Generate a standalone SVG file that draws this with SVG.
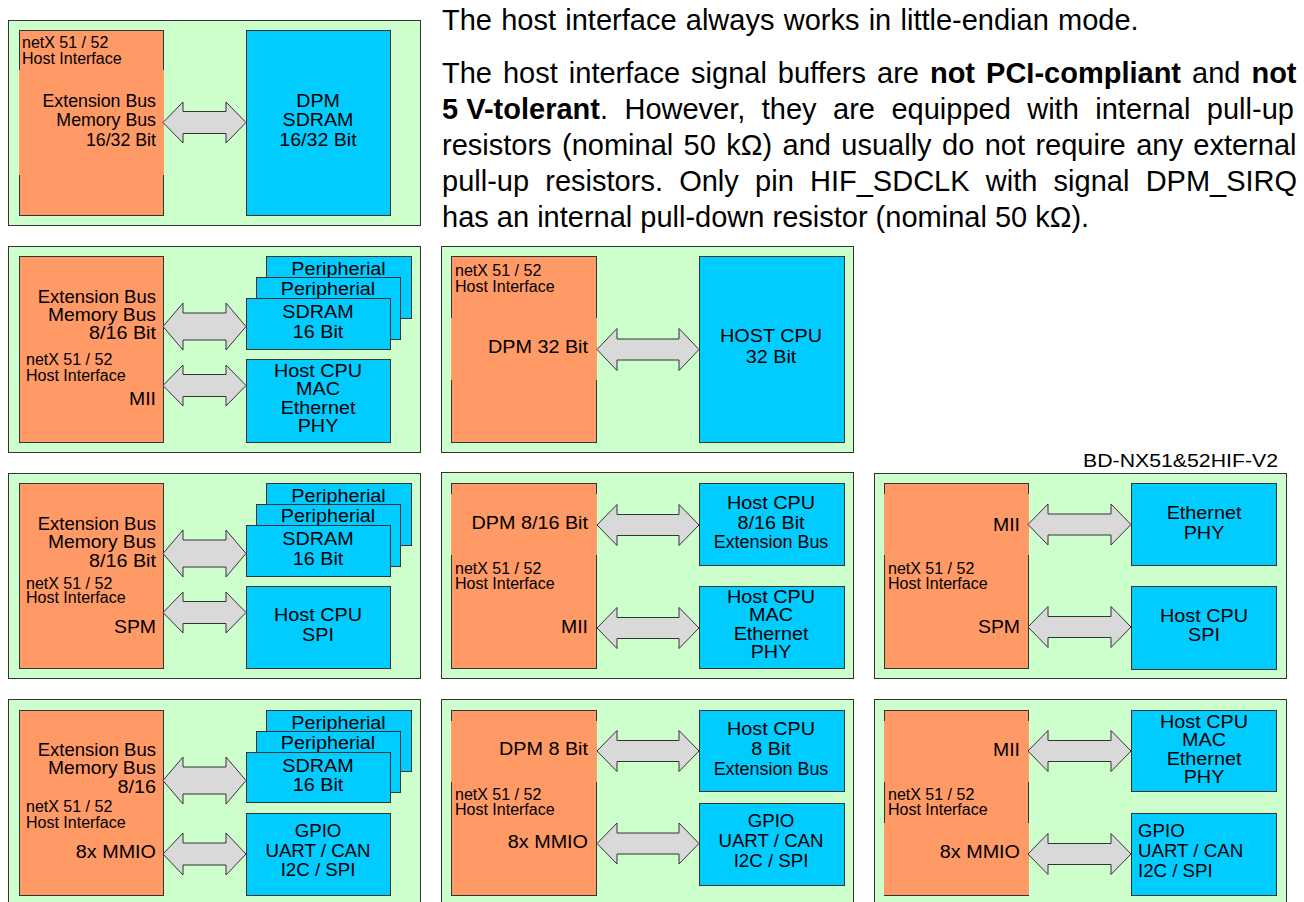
<svg xmlns="http://www.w3.org/2000/svg" width="1304" height="902" viewBox="0 0 1304 902">
<style>
.panel{fill:#ccffcc;stroke:#333;stroke-width:1}
.hif{fill:#ff9966;stroke:#333;stroke-width:1}
.gap{fill:#ff9966}
.blk{fill:#00ccff;stroke:#333;stroke-width:1}
.bus{fill:#d9d9d9;stroke:#333;stroke-width:1}
text{font-family:"Liberation Sans",Arial,Helvetica,sans-serif;fill:#000}
.t{font-size:18.5px}
.s{font-size:16px}
.p{font-size:29px}
.b{font-weight:bold}
.e{text-anchor:end}
.m{text-anchor:middle}
</style>
<rect width="1304" height="902" fill="#ffffff"/>

<g id="text-block">
<text class="p" x="442" y="30" word-spacing="1.2">The host interface always works in little-endian mode.</text>
<text class="p" x="442" y="83" word-spacing="2.96">The host interface signal buffers are <tspan class="b">not PCI-compliant</tspan> and <tspan class="b">not</tspan></text>
<text class="p" x="442" y="119" word-spacing="8.4"><tspan class="b" word-spacing="0">5 V-tolerant</tspan>. However, they are equipped with internal pull-up</text>
<text class="p" x="442" y="155" word-spacing="2.36">resistors (nominal 50 kΩ) and usually do not require any external</text>
<text class="p" x="442" y="191" word-spacing="8.19">pull-up resistors. Only pin HIF_SDCLK with signal DPM_SIRQ</text>
<text class="p" x="442" y="227">has an internal pull-down resistor (nominal 50 kΩ).</text>
</g>

<text id="label-bd" class="t e" transform="translate(1278 0) scale(1.15 1)" y="467.5">BD-NX51&amp;52HIF-V2</text>

<!-- Panel 1 -->
<g id="panel1">
<rect class="panel" x="8.5" y="20.5" width="412" height="205"/>
<g id="p1-hif">
<rect class="hif" x="19.5" y="30.5" width="144" height="185"/>
<rect class="gap" x="19" y="70" width="145" height="105"/>
<text class="s"><tspan x="22" y="48">netX 51 / 52</tspan><tspan x="22" y="64">Host Interface</tspan></text>
<text class="t e" transform="translate(156 0) scale(0.96 1)"><tspan x="0" y="107">Extension Bus</tspan><tspan x="0" y="126.5">Memory Bus</tspan><tspan x="0" y="146">16/32 Bit</tspan></text>
</g>
<g id="p1-dpm">
<rect class="blk" x="246.5" y="30.5" width="144" height="185"/>
<text class="t m" transform="translate(318 0) scale(1.06 1)"><tspan x="0" y="107">DPM</tspan><tspan x="0" y="126.5">SDRAM</tspan><tspan x="0" y="146">16/32 Bit</tspan></text>
</g>
</g>

<!-- Panel 2 -->
<g id="panel2">
<rect class="panel" x="8.5" y="246.5" width="412" height="206"/>
<g id="p2-hif">
<rect class="hif" x="19.5" y="256.5" width="144" height="186"/>
<text class="t e" transform="translate(156 0)" y="302.5">Extension Bus</text>
<text class="t e" transform="translate(156 0) scale(1.04 1)" y="321">Memory Bus</text>
<text class="t e" transform="translate(156 0) scale(1.07 1)" y="339.5">8/16 Bit</text>
<text class="s"><tspan x="26" y="365">netX 51 / 52</tspan><tspan x="26" y="381">Host Interface</tspan></text>
<text class="t e" transform="translate(156 0) scale(1.05 1)" y="405.5">MII</text>
</g>
<g id="p2-periph2">
<rect class="blk" x="266.5" y="256.5" width="145" height="62"/>
<text class="t m" transform="translate(338.5 0) scale(1.07 1)" y="275">Peripherial</text>
</g>
<g id="p2-periph1">
<rect class="blk" x="256.5" y="277.5" width="144" height="62"/>
<text class="t m" transform="translate(328 0) scale(1.07 1)" y="295.5">Peripherial</text>
</g>
<g id="p2-sdram">
<rect class="blk" x="246.5" y="298.5" width="144" height="51"/>
<text class="t m" transform="translate(318 0) scale(1.07 1)"><tspan x="0" y="318">SDRAM</tspan><tspan x="0" y="338">16 Bit</tspan></text>
</g>
<g id="p2-host">
<rect class="blk" x="246.5" y="359.5" width="144" height="83"/>
<text class="t m" transform="translate(318 0) scale(1.07 1)"><tspan x="0" y="377">Host CPU</tspan><tspan x="0" y="395.5">MAC</tspan><tspan x="0" y="414">Ethernet</tspan><tspan x="0" y="432.5">PHY</tspan></text>
</g>
</g>

<!-- Panel 3 -->
<g id="panel3">
<rect class="panel" x="441.5" y="246.5" width="412" height="206"/>
<g id="p3-hif">
<rect class="hif" x="451.5" y="256.5" width="145" height="186"/>
<rect class="gap" x="451" y="318" width="146" height="62"/>
<text class="s"><tspan x="455" y="276">netX 51 / 52</tspan><tspan x="455" y="292">Host Interface</tspan></text>
<text class="t e" transform="translate(588 0) scale(1.07 1)" y="353">DPM 32 Bit</text>
</g>
<g id="p3-host">
<rect class="blk" x="699.5" y="256.5" width="145" height="186"/>
<text class="t m" transform="translate(771 0) scale(1.07 1)"><tspan x="0" y="342.5">HOST CPU</tspan><tspan x="0" y="363">32 Bit</tspan></text>
</g>
</g>

<!-- Panel 4 -->
<g id="panel4">
<rect class="panel" x="8.5" y="473.5" width="412" height="205"/>
<g id="p4-hif">
<rect class="hif" x="19.5" y="483.5" width="144" height="185"/>
<text class="t e" transform="translate(156 0)" y="530">Extension Bus</text>
<text class="t e" transform="translate(156 0) scale(1.04 1)" y="548.5">Memory Bus</text>
<text class="t e" transform="translate(156 0) scale(1.07 1)" y="567">8/16 Bit</text>
<text class="s"><tspan x="26" y="588.5">netX 51 / 52</tspan><tspan x="26" y="603">Host Interface</tspan></text>
<text class="t e" transform="translate(156 0) scale(1.05 1)" y="633">SPM</text>
</g>
<g id="p4-periph2">
<rect class="blk" x="266.5" y="483.5" width="145" height="62"/>
<text class="t m" transform="translate(338.5 0) scale(1.07 1)" y="502">Peripherial</text>
</g>
<g id="p4-periph1">
<rect class="blk" x="256.5" y="504.5" width="144" height="62"/>
<text class="t m" transform="translate(328 0) scale(1.07 1)" y="522.5">Peripherial</text>
</g>
<g id="p4-sdram">
<rect class="blk" x="246.5" y="525.5" width="144" height="51"/>
<text class="t m" transform="translate(318 0) scale(1.07 1)"><tspan x="0" y="545">SDRAM</tspan><tspan x="0" y="565">16 Bit</tspan></text>
</g>
<g id="p4-host">
<rect class="blk" x="246.5" y="586.5" width="144" height="82"/>
<text class="t m" transform="translate(318 0) scale(1.07 1)"><tspan x="0" y="621.5">Host CPU</tspan><tspan x="0" y="641">SPI</tspan></text>
</g>
</g>

<!-- Panel 5 -->
<g id="panel5">
<rect class="panel" x="441.5" y="472.5" width="412" height="206"/>
<g id="p5-hif">
<rect class="hif" x="451.5" y="483.5" width="145" height="185"/>
<rect class="gap" x="451" y="494" width="146" height="61"/>
<text class="t e" transform="translate(588 0) scale(1.07 1)" y="529">DPM 8/16 Bit</text>
<text class="s"><tspan x="455" y="573.5">netX 51 / 52</tspan><tspan x="455" y="589">Host Interface</tspan></text>
<text class="t e" transform="translate(588 0) scale(1.05 1)" y="633">MII</text>
</g>
<g id="p5-host">
<rect class="blk" x="699.5" y="483.5" width="145" height="82"/>
<text class="t m" transform="translate(771 0) scale(1.07 1)"><tspan x="0" y="509.5">Host CPU</tspan><tspan x="0" y="529">8/16 Bit</tspan></text>
<text class="t m" transform="translate(771 0) scale(0.97 1)" y="548.5">Extension Bus</text>
</g>
<g id="p5-mac">
<rect class="blk" x="699.5" y="586.5" width="145" height="82"/>
<text class="t m" transform="translate(771 0) scale(1.07 1)"><tspan x="0" y="603">Host CPU</tspan><tspan x="0" y="621.5">MAC</tspan><tspan x="0" y="640">Ethernet</tspan><tspan x="0" y="658.5">PHY</tspan></text>
</g>
</g>

<!-- Panel 6 -->
<g id="panel6">
<rect class="panel" x="874.5" y="473.5" width="412" height="205"/>
<g id="p6-hif">
<rect class="hif" x="884.5" y="483.5" width="144" height="185"/>
<rect class="gap" x="884" y="494" width="145" height="61"/>
<text class="t e" transform="translate(1020 0) scale(1.05 1)" y="531">MII</text>
<text class="s"><tspan x="888" y="573.5">netX 51 / 52</tspan><tspan x="888" y="589">Host Interface</tspan></text>
<text class="t e" transform="translate(1020 0) scale(1.05 1)" y="633">SPM</text>
</g>
<g id="p6-phy">
<rect class="blk" x="1131.5" y="483.5" width="145" height="82"/>
<text class="t m" transform="translate(1204 0) scale(1.07 1)"><tspan x="0" y="519">Ethernet</tspan><tspan x="0" y="539">PHY</tspan></text>
</g>
<g id="p6-host">
<rect class="blk" x="1131.5" y="586.5" width="145" height="83"/>
<text class="t m" transform="translate(1204 0) scale(1.07 1)"><tspan x="0" y="622">Host CPU</tspan><tspan x="0" y="641.5">SPI</tspan></text>
</g>
</g>

<!-- Panel 7 -->
<g id="panel7">
<rect class="panel" x="8.5" y="699.5" width="412" height="206"/>
<g id="p7-hif">
<rect class="hif" x="19.5" y="710.5" width="144" height="185"/>
<text class="t e" transform="translate(156 0)" y="756">Extension Bus</text>
<text class="t e" transform="translate(156 0) scale(1.04 1)" y="774.5">Memory Bus</text>
<text class="t e" transform="translate(156 0) scale(1.07 1)" y="793">8/16</text>
<text class="s"><tspan x="26" y="811.5">netX 51 / 52</tspan><tspan x="26" y="828">Host Interface</tspan></text>
<text class="t e" transform="translate(156 0) scale(1.07 1)" y="858">8x MMIO</text>
</g>
<g id="p7-periph2">
<rect class="blk" x="266.5" y="710.5" width="145" height="61"/>
<text class="t m" transform="translate(338.5 0) scale(1.07 1)" y="729">Peripherial</text>
</g>
<g id="p7-periph1">
<rect class="blk" x="256.5" y="731.5" width="144" height="61"/>
<text class="t m" transform="translate(328 0) scale(1.07 1)" y="749.5">Peripherial</text>
</g>
<g id="p7-sdram">
<rect class="blk" x="246.5" y="752.5" width="144" height="50"/>
<text class="t m" transform="translate(318 0) scale(1.07 1)"><tspan x="0" y="772">SDRAM</tspan><tspan x="0" y="791">16 Bit</tspan></text>
</g>
<g id="p7-gpio">
<rect class="blk" x="246.5" y="813.5" width="144" height="82"/>
<text class="t m" transform="translate(318 0) scale(1.01 1)"><tspan x="0" y="837.5">GPIO</tspan><tspan x="0" y="857.5">UART / CAN</tspan><tspan x="0" y="876.5">I2C / SPI</tspan></text>
</g>
</g>

<!-- Panel 8 -->
<g id="panel8">
<rect class="panel" x="441.5" y="699.5" width="412" height="206"/>
<g id="p8-hif">
<rect class="hif" x="451.5" y="710.5" width="145" height="185"/>
<rect class="gap" x="451" y="721" width="146" height="61"/>
<text class="t e" transform="translate(588 0) scale(1.07 1)" y="755">DPM 8 Bit</text>
<text class="s"><tspan x="455" y="799.5">netX 51 / 52</tspan><tspan x="455" y="815">Host Interface</tspan></text>
<text class="t e" transform="translate(588 0) scale(1.07 1)" y="848.5">8x MMIO</text>
</g>
<g id="p8-host">
<rect class="blk" x="699.5" y="710.5" width="145" height="81"/>
<text class="t m" transform="translate(771 0) scale(1.07 1)"><tspan x="0" y="735">Host CPU</tspan><tspan x="0" y="755">8 Bit</tspan></text>
<text class="t m" transform="translate(771 0) scale(0.97 1)" y="775">Extension Bus</text>
</g>
<g id="p8-gpio">
<rect class="blk" x="699.5" y="803.5" width="145" height="82"/>
<text class="t m" transform="translate(771 0) scale(1.01 1)"><tspan x="0" y="827.5">GPIO</tspan><tspan x="0" y="847.5">UART / CAN</tspan><tspan x="0" y="867">I2C / SPI</tspan></text>
</g>
</g>

<!-- Panel 9 -->
<g id="panel9">
<rect class="panel" x="874.5" y="699.5" width="412" height="206"/>
<g id="p9-hif">
<rect class="hif" x="884.5" y="710.5" width="144" height="185"/>
<rect class="gap" x="884" y="721" width="145" height="61"/>
<rect class="gap" x="884" y="823" width="145" height="72"/>
<text class="t e" transform="translate(1020 0) scale(1.05 1)" y="756.5">MII</text>
<text class="s"><tspan x="888" y="799.5">netX 51 / 52</tspan><tspan x="888" y="815">Host Interface</tspan></text>
<text class="t e" transform="translate(1020 0) scale(1.07 1)" y="858">8x MMIO</text>
</g>
<g id="p9-host">
<rect class="blk" x="1131.5" y="710.5" width="145" height="81"/>
<text class="t m" transform="translate(1204 0) scale(1.07 1)"><tspan x="0" y="728">Host CPU</tspan><tspan x="0" y="746.5">MAC</tspan><tspan x="0" y="765">Ethernet</tspan><tspan x="0" y="783.5">PHY</tspan></text>
</g>
<g id="p9-gpio">
<rect class="blk" x="1131.5" y="813.5" width="145" height="82"/>
<text class="t" transform="translate(1138 0) scale(1.01 1)"><tspan x="0" y="837.5">GPIO</tspan><tspan x="0" y="857.5">UART / CAN</tspan><tspan x="0" y="877">I2C / SPI</tspan></text>
</g>
</g>

<!-- Connectors -->
<g id="connectors">
<path class="bus" d="M163,122.5 L183,102 L183,111.5 L226,111.5 L226,102 L246,122.5 L226,143 L226,133.5 L183,133.5 L183,143 Z"/>
<path class="bus" d="M163,326.5 L183,303 L183,313 L226,313 L226,303 L246,326.5 L226,350 L226,340 L183,340 L183,350 Z"/>
<path class="bus" d="M163,385.5 L183,365 L183,374.5 L226,374.5 L226,365 L246,385.5 L226,406 L226,396.5 L183,396.5 L183,406 Z"/>
<path class="bus" d="M597,349.5 L617,328.5 L617,339 L679,339 L679,328.5 L699,349.5 L679,370.5 L679,360 L617,360 L617,370.5 Z"/>
<path class="bus" d="M163,553.5 L183,530 L183,540 L226,540 L226,530 L246,553.5 L226,577 L226,567 L183,567 L183,577 Z"/>
<path class="bus" d="M163,612.5 L183,592 L183,601.5 L226,601.5 L226,592 L246,612.5 L226,633 L226,623.5 L183,623.5 L183,633 Z"/>
<path class="bus" d="M597,525 L617,504.5 L617,514.5 L679,514.5 L679,504.5 L699,525 L679,545.5 L679,535.5 L617,535.5 L617,545.5 Z"/>
<path class="bus" d="M597,628 L617,607.5 L617,617.5 L679,617.5 L679,607.5 L699,628 L679,648.5 L679,638.5 L617,638.5 L617,648.5 Z"/>
<path class="bus" d="M1028,524.5 L1048,504 L1048,514 L1111,514 L1111,504 L1131,524.5 L1111,545 L1111,535 L1048,535 L1048,545 Z"/>
<path class="bus" d="M1028,627 L1048,606.5 L1048,616.5 L1111,616.5 L1111,606.5 L1131,627 L1111,647.5 L1111,637.5 L1048,637.5 L1048,647.5 Z"/>
<path class="bus" d="M163,780.5 L183,757 L183,767 L226,767 L226,757 L246,780.5 L226,804 L226,794 L183,794 L183,804 Z"/>
<path class="bus" d="M163,854 L183,833 L183,843 L226,843 L226,833 L246,854 L226,875 L226,865 L183,865 L183,875 Z"/>
<path class="bus" d="M597,751 L617,730.5 L617,740.5 L679,740.5 L679,730.5 L699,751 L679,771.5 L679,761.5 L617,761.5 L617,771.5 Z"/>
<path class="bus" d="M597,843.5 L617,823 L617,833 L679,833 L679,823 L699,843.5 L679,864 L679,854 L617,854 L617,864 Z"/>
<path class="bus" d="M1028,751 L1048,730.5 L1048,740.5 L1111,740.5 L1111,730.5 L1131,751 L1111,771.5 L1111,761.5 L1048,761.5 L1048,771.5 Z"/>
<path class="bus" d="M1028,854 L1048,833.5 L1048,843.5 L1111,843.5 L1111,833.5 L1131,854 L1111,874.5 L1111,864.5 L1048,864.5 L1048,874.5 Z"/>
</g>
</svg>
